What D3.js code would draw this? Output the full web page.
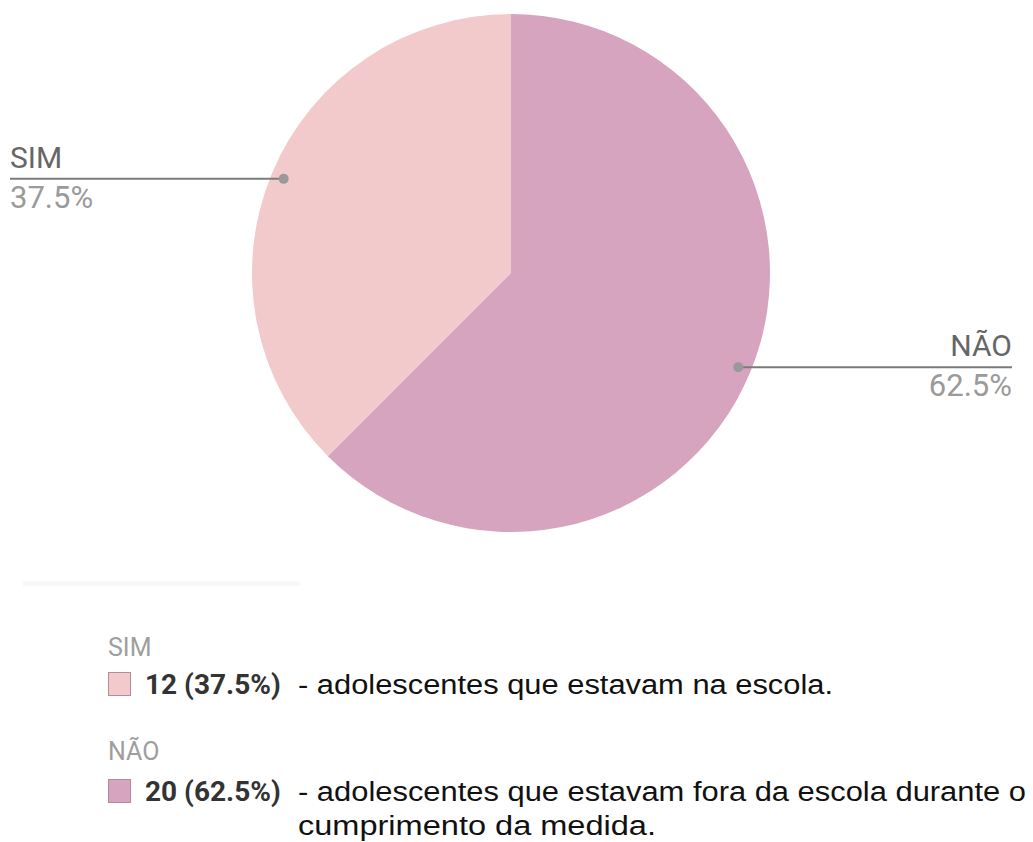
<!DOCTYPE html>
<html>
<head>
<meta charset="utf-8">
<script src="https://cdn.jsdelivr.net/npm/d3@7"></script>
<style>
  body { margin: 0; background: #fff; }
  svg { display: block; }
</style>
</head>
<body>
<div id="chart"></div>
<script>
// data
const categories = ["SIM", "NÃO"];
const counts = [12, 20];
const colors = ["#f3cacb", "#d6a4be"];
const descriptions = [
    ["- adolescentes que estavam na escola."],
    ["- adolescentes que estavam fora da escola durante o", "cumprimento da medida."]
];

const width = 1033, height = 842;
const cx = 511, cy = 273, radius = 259;

const svg = d3.select("#chart")
    .append("svg")
    .attr("width", width)
    .attr("height", height);

const total = d3.sum(counts);
const pct = v => (v / total * 100).toFixed(1) + "%";

const data = categories.map((c, i) => ({ name: c, value: counts[i], color: colors[i], desc: descriptions[i] }));

// SIM ends at 12 o'clock, NÃO goes clockwise from 12 o'clock
const pie = d3.pie()
    .sort(null)
    .value(d => d.value)
    .startAngle(-Math.PI * 3 / 4)
    .endAngle(Math.PI * 5 / 4);

const arcs = pie(data);

const g = svg.append("g").attr("transform", `translate(${cx},${cy})`);

g.selectAll("path.slice")
    .data(arcs)
    .join("path")
    .attr("class", "slice")
    .attr("fill", d => d.data.color)
    .attr("d", d3.arc().innerRadius(0).outerRadius(radius));

// callout labels
const dotArc = d3.arc().innerRadius(radius * 0.95).outerRadius(radius * 0.95);

arcs.forEach(a => {
    const [px, py] = dotArc.centroid({ startAngle: a.startAngle, endAngle: a.endAngle });
    const dx = cx + px, dy = cy + py;
    const left = dx < cx;
    const tx = left ? 10 : 1012;

    svg.append("line")
        .attr("x1", tx).attr("x2", dx)
        .attr("y1", dy).attr("y2", dy)
        .attr("stroke", "#7b7b7b")
        .attr("stroke-width", 2);

    svg.append("circle")
        .attr("cx", dx).attr("cy", dy)
        .attr("r", 5)
        .attr("fill", "#999");

    svg.append("text")
        .attr("x", tx).attr("y", dy - 11)
        .attr("text-anchor", left ? "start" : "end")
        .attr("font-family", "Roboto, sans-serif")
        .attr("font-size", 30)
        .attr("fill", "#666")
        .text(a.data.name);

    svg.append("text")
        .attr("x", tx).attr("y", dy + 29)
        .attr("text-anchor", left ? "start" : "end")
        .attr("font-family", "Roboto, sans-serif")
        .attr("font-size", 31)
        .attr("fill", "#9a9a9a")
        .text(pct(a.data.value));
});

// faint separator
svg.append("rect")
    .attr("x", 23).attr("y", 581)
    .attr("width", 277).attr("height", 5)
    .attr("fill", "#f8f8f8");

// legend
const labelBase = [656, 760];
const rowBase = [694, 801];

const legend = svg.selectAll("g.legend")
    .data(data)
    .join("g")
    .attr("class", "legend")
    .attr("transform", (d, i) => `translate(108,${rowBase[i]})`);

legend.append("text")
    .attr("x", 0).attr("y", (d, i) => labelBase[i] - rowBase[i])
    .attr("font-family", "Roboto, sans-serif")
    .attr("font-size", 25)
    .attr("fill", "#9e9e9e")
    .text(d => d.name);

legend.append("rect")
    .attr("x", 0.5).attr("y", -21.5)
    .attr("width", 22).attr("height", 23)
    .attr("fill", d => d.color)
    .attr("stroke", "#b88a99")
    .attr("stroke-width", 1);

legend.append("text")
    .attr("x", 37).attr("y", 0)
    .attr("font-family", "Roboto, sans-serif")
    .attr("font-weight", "bold")
    .attr("font-size", 28)
    .attr("fill", "#333")
    .text(d => `${d.value} (${pct(d.value)})`);

legend.each(function(d) {
    const sel = d3.select(this);
    const widths = d.desc.length > 1 ? [728, 358] : [535];
    d.desc.forEach((line, j) => {
        sel.append("text")
            .attr("x", 190)
            .attr("y", j * 34)
            .attr("font-family", "'Liberation Sans', Arial, sans-serif")
            .attr("font-size", 27)
            .attr("fill", "#111")
            .attr("textLength", widths[j])
            .attr("lengthAdjust", "spacingAndGlyphs")
            .text(line);
    });
});
</script>
</body>
</html>
